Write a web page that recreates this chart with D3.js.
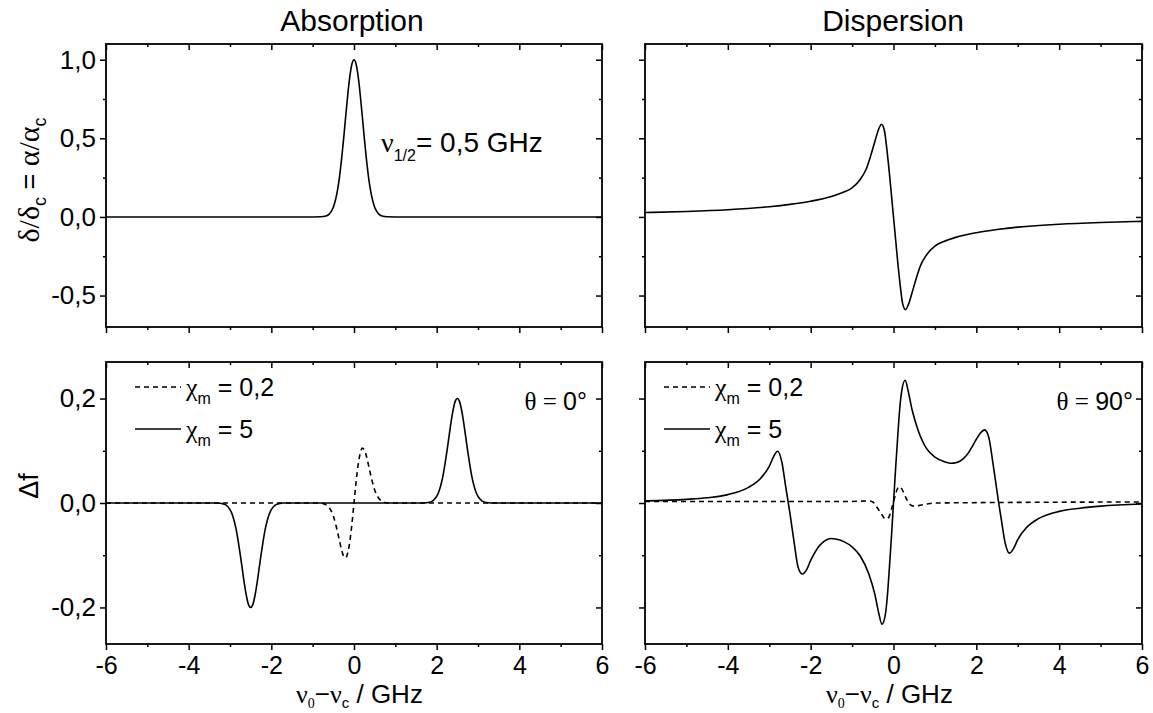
<!DOCTYPE html>
<html><head><meta charset="utf-8">
<script src="https://cdn.jsdelivr.net/npm/d3@7"></script>
<style>
body{margin:0;background:#fff;}
text{font-family:"Liberation Sans",Arial,sans-serif;fill:#000;}
</style></head>
<body><svg id="c" width="1153" height="713"></svg>
<script>
// ---------- data ----------
const xDomain = [-6, 6];
const xTicks = [-6, -4, -2, 0, 2, 4, 6];
const xTickLabels = ["-6", "-4", "-2", "0", "2", "4", "6"];
const topYDomain = [-0.7, 1.1];
const topYTicks = [-0.5, 0, 0.5, 1.0];
const topYTickLabels = ["-0,5", "0,0", "0,5", "1,0"];
const botYDomain = [-0.27, 0.27];
const botYTicks = [-0.2, 0, 0.2];
const botYTickLabels = ["-0,2", "0,0", "0,2"];

// Absorption (top left)
const absX = [-6, -1, -0.8, -0.7, -0.6, -0.5, -0.45, -0.4, -0.35, -0.3, -0.25, -0.2, -0.15, -0.1, -0.05, 0,
  0.05, 0.1, 0.15, 0.2, 0.25, 0.3, 0.35, 0.4, 0.45, 0.5, 0.6, 0.7, 0.8, 1, 6];
const absY = [0, 0, 0.001, 0.004, 0.018, 0.062, 0.106, 0.169, 0.257, 0.369, 0.5, 0.642, 0.779, 0.895, 0.973, 1,
  0.973, 0.895, 0.779, 0.642, 0.5, 0.369, 0.257, 0.169, 0.106, 0.062, 0.018, 0.004, 0.001, 0, 0];

// Dispersion (top right)
const disX = [-6, -5, -4, -3, -2.5, -2, -1.5, -1.2, -1.0, -0.8, -0.65, -0.55, -0.45, -0.37, -0.29, -0.22, -0.16, -0.1, -0.05, 0,
  0.05, 0.1, 0.16, 0.22, 0.29, 0.37, 0.45, 0.55, 0.65, 0.8, 1.0, 1.2, 1.5, 2, 2.5, 3, 4, 5, 6];
const disY = [0.028, 0.035, 0.046, 0.065, 0.08, 0.1, 0.13, 0.158, 0.185, 0.24, 0.31, 0.39, 0.48, 0.55, 0.59, 0.55, 0.43, 0.28, 0.14, 0,
  -0.14, -0.28, -0.43, -0.55, -0.59, -0.55, -0.48, -0.39, -0.31, -0.24, -0.185, -0.158, -0.13, -0.1, -0.08, -0.065, -0.046, -0.035, -0.028];

// Bottom left, theta = 0
const bl5X = [-6, -3.3, -3.2, -3.1, -3.0, -2.95, -2.9, -2.85, -2.8, -2.75, -2.7, -2.65, -2.6, -2.55, -2.5,
  -2.45, -2.4, -2.35, -2.3, -2.25, -2.2, -2.15, -2.1, -2.05, -2.0, -1.9, -1.8, -1.7,
  1.7, 1.8, 1.9, 2.0, 2.05, 2.1, 2.15, 2.2, 2.25, 2.3, 2.35, 2.4, 2.45, 2.5,
  2.55, 2.6, 2.65, 2.7, 2.75, 2.8, 2.85, 2.9, 2.95, 3.0, 3.1, 3.2, 3.3, 6];
const bl5Y = [0, 0, -0.0009, -0.0037, -0.0125, -0.021, -0.034, -0.051, -0.074, -0.1, -0.128, -0.156, -0.179, -0.195, -0.2,
  -0.195, -0.179, -0.156, -0.128, -0.1, -0.074, -0.051, -0.034, -0.021, -0.0125, -0.0037, -0.0009, 0,
  0, 0.0009, 0.0037, 0.0125, 0.021, 0.034, 0.051, 0.074, 0.1, 0.128, 0.156, 0.179, 0.195, 0.2,
  0.195, 0.179, 0.156, 0.128, 0.1, 0.074, 0.051, 0.034, 0.021, 0.0125, 0.0037, 0.0009, 0, 0];
const bl02X = [-6, -0.8, -0.7, -0.6, -0.5, -0.4, -0.35, -0.3, -0.25, -0.2, -0.15, -0.1, -0.05, 0,
  0.05, 0.1, 0.15, 0.2, 0.25, 0.3, 0.35, 0.4, 0.5, 0.6, 0.7, 0.8, 6];
const bl02Y = [0, 0, -0.0025, -0.009, -0.025, -0.055, -0.073, -0.09, -0.102, -0.105, -0.095, -0.073, -0.04, 0,
  0.04, 0.073, 0.095, 0.105, 0.102, 0.09, 0.073, 0.055, 0.025, 0.009, 0.0025, 0, 0];

// Bottom right, theta = 90
const br5X = [-6, -5, -4.5, -4, -3.5, -3.2, -3.0, -2.9, -2.8, -2.7, -2.6, -2.55, -2.5, -2.4, -2.3, -2.2, -2.1, -2.0, -1.9, -1.8, -1.7, -1.6, -1.5, -1.4, -1.2, -1.0, -0.8, -0.6, -0.45, -0.35, -0.28, -0.2, -0.15, -0.1, -0.05, 0,
  0.05, 0.1, 0.15, 0.2, 0.28, 0.35, 0.45, 0.6, 0.8, 1.0, 1.2, 1.4, 1.5, 1.6, 1.7, 1.8, 1.9, 2.0, 2.1, 2.2, 2.3, 2.4, 2.5, 2.55, 2.6, 2.7, 2.8, 2.9, 3.0, 3.2, 3.5, 4, 4.5, 5, 6];
const br5Y = [0.004, 0.007, 0.01, 0.016, 0.03, 0.048, 0.07, 0.088, 0.099, 0.08, 0.03, 0.005, -0.02, -0.075, -0.124, -0.136, -0.128, -0.11, -0.095, -0.083, -0.075, -0.07, -0.068, -0.069, -0.074, -0.084, -0.102, -0.135, -0.175, -0.213, -0.232, -0.215, -0.18, -0.125, -0.065, 0,
  0.065, 0.125, 0.18, 0.215, 0.235, 0.216, 0.178, 0.138, 0.104, 0.088, 0.08, 0.076, 0.077, 0.08, 0.086, 0.095, 0.108, 0.122, 0.134, 0.14, 0.126, 0.077, 0.022, -0.005, -0.03, -0.078, -0.096, -0.087, -0.07, -0.048, -0.03, -0.016, -0.01, -0.006, -0.002];
const br02X = [-6, -1, -0.6, -0.5, -0.4, -0.3, -0.2, -0.15, -0.1, -0.05, 0, 0.05, 0.1, 0.15, 0.2, 0.3, 0.4, 0.5, 0.6, 0.8, 1, 6];
const br02Y = [0.003, 0.003, 0.004, 0.002, -0.008, -0.02, -0.03, -0.03, -0.025, -0.012, 0.002, 0.017, 0.028, 0.031, 0.027, 0.01, -0.003, -0.006, -0.005, -0.002, 0, 0.002];

// ---------- layout ----------
const svg = d3.select("#c");
const cols = [{x0: 106, x1: 602}, {x0: 645, x1: 1142}];
const rows = [{y0: 44, y1: 327}, {y0: 362, y1: 644}];
const serif = "'Liberation Serif','Times New Roman',serif";

function panel(col, row, opt) {
  const c = cols[col], r = rows[row];
  const x = d3.scaleLinear().domain(xDomain).range([c.x0, c.x1]);
  const y = d3.scaleLinear().domain(opt.yDomain).range([r.y1, r.y0]);
  const g = svg.append("g");
  const xMinor = [-5, -3, -1, 1, 3, 5];
  const yMinor = opt.yMinor;
  const style = (s, fs) => s.call(a => a.select(".domain").remove())
      .call(a => a.selectAll("line").attr("stroke", "#000").attr("stroke-width", 1.5))
      .call(a => a.selectAll("text").style("font-size", (fs || 26) + "px").attr("fill", "#000"));
  // bottom
  g.append("g").attr("transform", `translate(0,${r.y1})`)
    .call(d3.axisBottom(x).tickValues(xTicks).tickSize(6).tickPadding(6)
      .tickFormat((d, i) => opt.xLabels ? xTickLabels[i] : "")).call(style, 25);
  g.append("g").attr("transform", `translate(0,${r.y1})`)
    .call(d3.axisBottom(x).tickValues(xMinor).tickSize(3).tickFormat("")).call(style);
  // top (inward)
  g.append("g").attr("transform", `translate(0,${r.y0})`)
    .call(d3.axisBottom(x).tickValues(xTicks).tickSize(6).tickFormat("")).call(style);
  g.append("g").attr("transform", `translate(0,${r.y0})`)
    .call(d3.axisBottom(x).tickValues(xMinor).tickSize(3).tickFormat("")).call(style);
  // left (outward)
  g.append("g").attr("transform", `translate(${c.x0},0)`)
    .call(d3.axisLeft(y).tickValues(opt.yTicks).tickSize(6).tickPadding(4)
      .tickFormat((d, i) => opt.yLabels ? opt.yTickLabels[i] : "")).call(style);
  g.append("g").attr("transform", `translate(${c.x0},0)`)
    .call(d3.axisLeft(y).tickValues(yMinor).tickSize(3).tickFormat("")).call(style);
  // right (inward)
  g.append("g").attr("transform", `translate(${c.x1},0)`)
    .call(d3.axisLeft(y).tickValues(opt.yTicks).tickSize(6).tickFormat("")).call(style);
  g.append("g").attr("transform", `translate(${c.x1},0)`)
    .call(d3.axisLeft(y).tickValues(yMinor).tickSize(3).tickFormat("")).call(style);
  // frame
  g.append("rect").attr("x", c.x0).attr("y", r.y0).attr("width", c.x1 - c.x0).attr("height", r.y1 - r.y0)
    .attr("fill", "none").attr("stroke", "#000").attr("stroke-width", 1.8);
  const clip = "clip" + col + row;
  svg.append("clipPath").attr("id", clip).append("rect")
    .attr("x", c.x0).attr("y", r.y0).attr("width", c.x1 - c.x0).attr("height", r.y1 - r.y0);
  const line = d3.line().x(d => x(d[0])).y(d => y(d[1])).curve(d3.curveMonotoneX);
  opt.series.forEach(s => {
    g.append("path").datum(s.x.map((v, i) => [v, s.y[i]]))
      .attr("d", line).attr("fill", "none").attr("stroke", "#000")
      .attr("stroke-width", 1.6).attr("clip-path", `url(#${clip})`)
      .attr("stroke-dasharray", s.dash ? "5,4" : null);
  });
  return {x, y};
}

panel(0, 0, {yDomain: topYDomain, yTicks: topYTicks, yTickLabels: topYTickLabels, yMinor: [-0.25, 0.25, 0.75],
  yLabels: true, xLabels: false, series: [{x: absX, y: absY}]});
panel(1, 0, {yDomain: topYDomain, yTicks: topYTicks, yTickLabels: topYTickLabels, yMinor: [-0.25, 0.25, 0.75],
  yLabels: false, xLabels: false, series: [{x: disX, y: disY}]});
panel(0, 1, {yDomain: botYDomain, yTicks: botYTicks, yTickLabels: botYTickLabels, yMinor: [-0.1, 0.1],
  yLabels: true, xLabels: true, series: [{x: bl02X, y: bl02Y, dash: true}, {x: bl5X, y: bl5Y}]});
panel(1, 1, {yDomain: botYDomain, yTicks: botYTicks, yTickLabels: botYTickLabels, yMinor: [-0.1, 0.1],
  yLabels: false, xLabels: true, series: [{x: br02X, y: br02Y, dash: true}, {x: br5X, y: br5Y}]});

// ---------- titles ----------
svg.append("text").attr("x", 352).attr("y", 31).attr("text-anchor", "middle").style("font-size", "30px").text("Absorption");
svg.append("text").attr("x", 893).attr("y", 31).attr("text-anchor", "middle").style("font-size", "30px").text("Dispersion");

// y labels
const yl = svg.append("text").attr("transform", "translate(39,180) rotate(-90)").attr("text-anchor", "middle").style("font-size", "27px");
yl.append("tspan").style("font-family", serif).style("font-size", "30px").text("δ/δ");
yl.append("tspan").attr("dy", 7).style("font-size", "18px").text("c");
yl.append("tspan").attr("dy", -7).text(" = ");
yl.append("tspan").style("font-family", serif).style("font-size", "30px").text("α/α");
yl.append("tspan").attr("dy", 7).style("font-size", "18px").text("c");

svg.append("text").attr("transform", "translate(38,486) rotate(-90)").attr("text-anchor", "middle").style("font-size", "27px").text("Δf");

// x labels
function xlab(x0) {
  const t = svg.append("text").attr("x", x0).attr("y", 703).style("font-size", "26px");
  t.append("tspan").style("font-family", serif).text("ν");
  t.append("tspan").attr("dy", 5).style("font-family", serif).style("font-size", "14px").text("0");
  t.append("tspan").attr("dy", -5).text("−");
  t.append("tspan").style("font-family", serif).text("ν");
  t.append("tspan").attr("dy", 5).style("font-size", "15px").text("c");
  t.append("tspan").attr("dy", -5).text(" / GHz");
}
xlab(296); xlab(826);

// annotation nu_1/2
const nu = svg.append("text").attr("x", 381).attr("y", 152).style("font-size", "28px");
nu.append("tspan").style("font-family", serif).text("ν");
nu.append("tspan").attr("dy", 9).style("font-size", "16px").text("1/2");
nu.append("tspan").attr("dy", -9).text("= 0,5 GHz");

// legends
function legend(x0, ytop) {
  [[ytop, true, "0,2"], [ytop + 42, false, "5"]].forEach(([yy, dash, v]) => {
    svg.append("line").attr("x1", x0).attr("x2", x0 + 46).attr("y1", yy).attr("y2", yy)
      .attr("stroke", "#000").attr("stroke-width", 1.6).attr("stroke-dasharray", dash ? "5,4" : null);
    const t = svg.append("text").attr("x", x0 + 51).attr("y", yy + 9).style("font-size", "25px");
    t.append("tspan").style("font-family", serif).style("font-size", "26px").text("χ");
    t.append("tspan").attr("dy", 8).style("font-size", "16px").text("m");
    t.append("tspan").attr("dy", -8).text(" = " + v);
  });
}
legend(135, 387);
legend(664, 387);

// theta annotations
svg.append("text").attr("x", 587).attr("y", 410).attr("text-anchor", "end").style("font-size", "25px")
  .call(t => { t.append("tspan").style("font-family", serif).text("θ = "); t.append("tspan").text("0°"); });
svg.append("text").attr("x", 1133).attr("y", 410).attr("text-anchor", "end").style("font-size", "25px")
  .call(t => { t.append("tspan").style("font-family", serif).text("θ = "); t.append("tspan").text("90°"); });
</script></body></html>
